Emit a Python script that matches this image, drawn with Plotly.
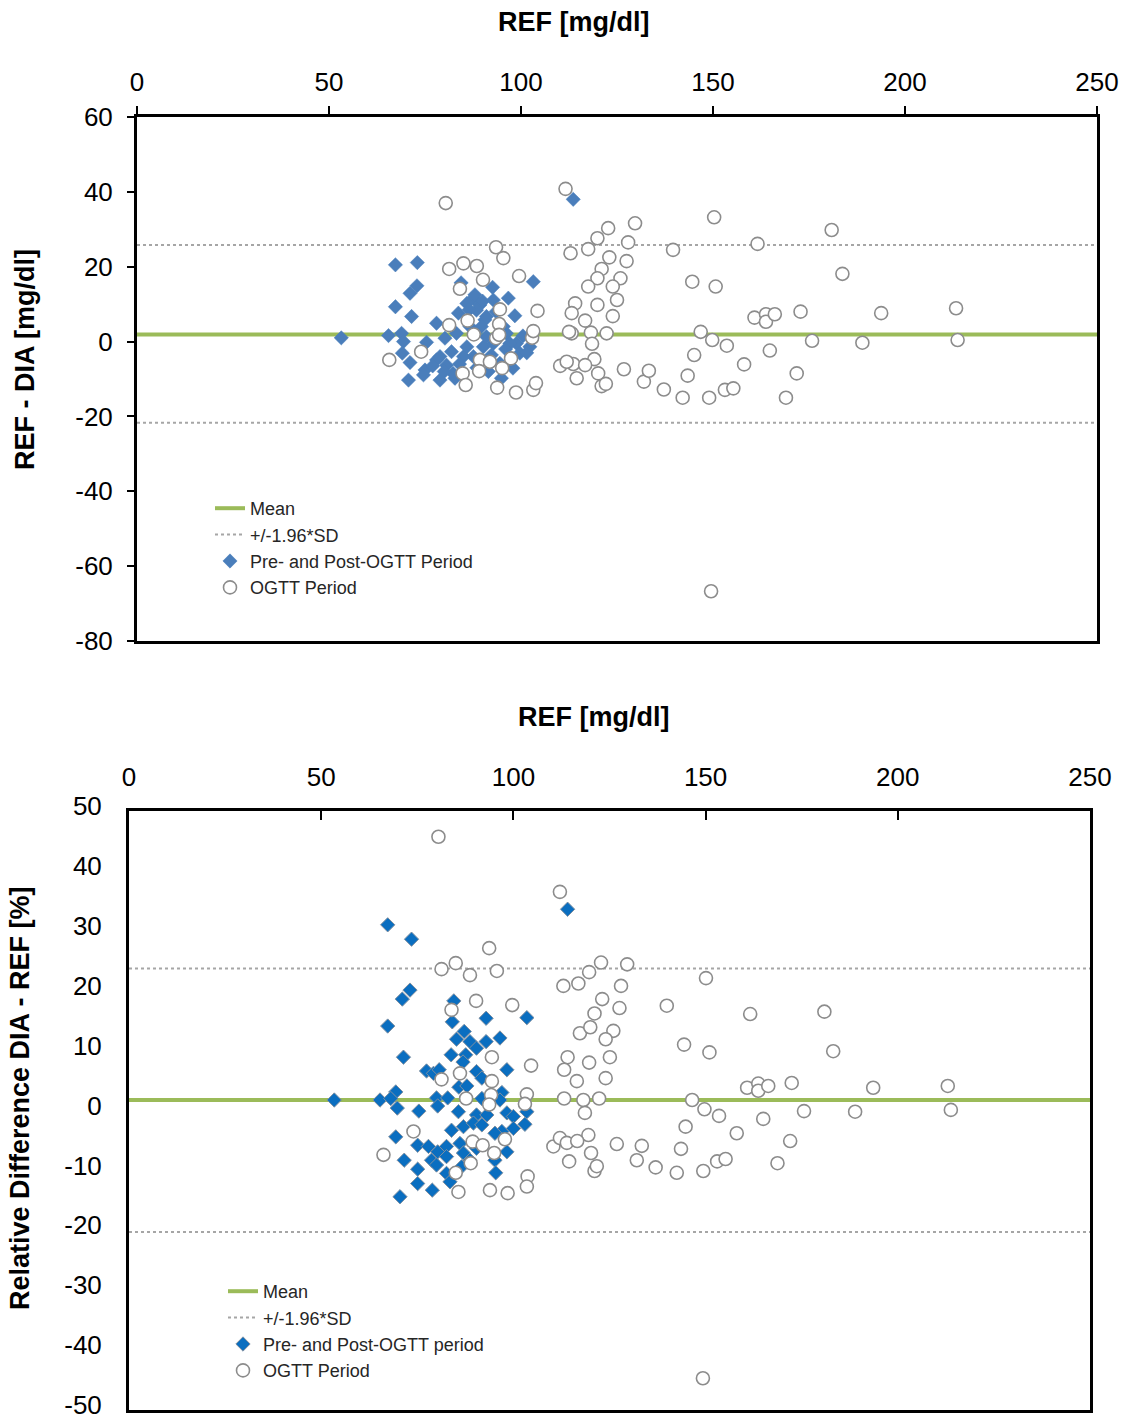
import plotly.graph_objects as go

# ---------------- DATA ----------------
# Top chart: absolute difference REF - DIA [mg/dl] vs REF [mg/dl]
top_pre_x = [113.6, 67.3, 73.0, 72.9, 71.1, 67.3, 71.5, 84.4, 92.6, 103.2, 96.7, 87.6, 85.9, 89.3, 92.8,
             83.7, 98.4, 78.0, 90.6, 53.2, 65.5, 68.9, 69.4, 75.4, 80.2, 83.2, 96.2, 98.8, 102.3, 85.9,
             90.2, 69.1, 71.1, 75.0, 70.7, 74.6, 78.9, 78.0, 80.6, 82.3, 82.8, 87.6, 94.5, 97.9, 94.9,
             92.3, 99.7, 88.4, 91.0, 86.7, 89.7, 95.4, 92.8, 97.1, 81.9, 85.0, 91.0, 78.9, 88.0, 90.0,
             86.5, 93.5, 100.5, 101.5, 96.0, 84.0, 88.5, 91.5, 77.0, 80.0]
top_pre_y = [38.0, 20.5, 21.1, 14.9, 12.9, 9.3, 6.7, 15.7, 14.5, 16.0, 11.6, 11.6, 10.2, 9.8, 11.1,
             7.6, 6.9, 4.9, 5.8, 1.0, 1.6, 2.2, 0.0, -0.2, 0.9, 2.2, 2.2, -0.5, -1.4, -1.4,
             -1.4, -3.1, -5.6, -7.6, -10.3, -8.9, -10.3, -4.9, -6.3, -8.5, -9.8, -4.0, -5.8, -7.1, -9.8,
             -3.6, -3.1, 8.4, 6.7, 4.0, 4.0, 4.0, -0.5, -0.5, -2.7, -4.0, 1.3, -4.0, 12.5, 10.8,
             8.5, 8.0, 1.5, -3.0, -2.0, -6.0, -7.0, -8.0, -6.5, -8.0]

top_ogtt_x = [80.4, 111.6, 93.5, 95.4, 81.3, 85.0, 88.5, 90.1, 99.5, 84.1, 94.5, 104.3, 81.3, 86.1, 94.3,
              87.7, 93.5, 94.3, 102.9, 103.2, 74.0, 65.7, 89.3, 91.9, 97.4, 84.8, 89.1, 95.1, 85.6, 93.8,
              98.7, 103.2, 103.9,
              150.3, 129.7, 122.7, 119.9, 117.5, 112.9, 127.9, 139.6, 161.6, 123.0, 127.5, 121.0, 119.9,
              117.5, 125.9, 123.9, 144.6, 150.7, 125.0, 119.9, 114.1, 113.2, 123.9, 116.7, 113.2, 112.5,
              118.2, 122.3, 118.5, 119.1, 110.2, 113.6, 116.7, 111.9, 114.5, 120.1, 121.0, 122.1, 126.8,
              132.0, 133.3, 137.2, 142.1, 143.4, 145.1, 146.8, 149.8, 153.6, 149.0, 153.1, 155.3, 158.1,
              160.8, 163.8, 163.8, 166.1, 164.8, 172.8, 171.8, 169.0,
              180.9, 183.7, 193.8, 213.3, 175.8, 188.9, 213.7, 149.5]
top_ogtt_y = [37.0, 40.8, 25.2, 22.3, 19.4, 20.9, 20.2, 16.5, 17.5, 14.1, 8.6, 8.2, 4.4, 5.6, 4.7,
              1.9, 0.9, 1.8, 1.0, 2.8, -2.7, -4.9, -4.9, -5.4, -4.5, -8.5, -7.9, -7.1, -11.6, -12.3,
              -13.6, -12.9, -11.1,
              33.2, 31.6, 30.3, 27.6, 24.7, 23.6, 26.5, 24.5, 26.1, 22.5, 21.5, 19.4, 16.9,
              14.7, 16.9, 14.7, 16.0, 14.7, 11.1, 9.8, 10.2, 7.6, 6.8, 5.6, 2.2, 2.6,
              2.4, 2.2, -0.6, -4.7, -6.5, -6.0, -6.3, -5.4, -9.8, -8.5, -11.9, -11.3, -7.4,
              -10.7, -7.8, -12.8, -15.0, -9.1, -3.6, 2.6, 0.4, -1.1, -15.0, -12.9, -12.5, -6.1,
              6.4, 7.3, 5.3, 7.3, -2.4, 8.0, -8.5, -15.0,
              29.8, 18.1, 7.6, 8.9, 0.2, -0.3, 0.4, -66.7]

top_mean = 1.9
top_upper = 25.8
top_lower = -21.7

# Bottom chart: relative difference DIA - REF [%] vs REF [mg/dl]
bot_pre_x = [114.1, 67.3, 73.5, 73.1, 71.1, 84.5,
             67.3, 92.9, 103.5, 84.1, 87.2, 85.2, 88.7, 90.4, 92.9, 96.5, 71.4, 83.8, 87.6, 86.9,
             77.4, 79.2, 80.7, 90.4, 98.3, 91.8, 85.8, 87.9, 97.0, 69.4, 53.4, 65.3, 68.1, 80.0,
             82.9, 91.8, 96.5, 69.8, 75.4, 80.3, 85.7, 90.4, 93.1, 98.3, 100.0, 103.5, 83.9, 87.0,
             89.6, 91.8, 103.0, 100.0, 97.0, 95.2, 69.4, 75.1, 77.9, 80.3, 82.6, 86.1, 90.4, 98.3,
             71.6, 78.7, 80.0, 82.6, 87.0, 88.7, 95.2, 75.1, 82.6, 95.4, 75.1, 78.9, 83.5, 70.5, 86.5]
bot_pre_y = [33.6, 31.0, 28.6, 20.1, 18.6, 18.3,
             14.1, 15.4, 15.5, 14.8, 13.2, 11.9, 11.5, 10.4, 11.5, 12.1, 8.9, 9.3, 9.3, 8.1,
             6.6, 6.2, 6.8, 6.5, 6.8, 5.4, 3.9, 4.1, 3.0, 3.1, 1.75, 1.75, 2.0, 2.1,
             2.1, 2.0, 1.75, 0.4, -0.1, 0.75, -0.2, -0.75, -0.75, -0.4, -1.0, -0.2, -3.3, -2.7,
             -2.1, -2.4, -2.3, -3.0, -3.5, -3.8, -4.4, -5.8, -6.0, -6.9, -6.0, -5.5, -6.3, -6.9,
             -8.3, -8.3, -9.1, -7.7, -7.1, -8.3, -8.3, -9.8, -10.5, -10.4, -12.2, -13.3, -11.9, -14.4, -9.4]

bot_ogtt_x = [80.5, 112.1, 93.7, 81.3, 85.0, 88.7, 95.7, 113.0, 116.9, 90.3, 99.7, 83.9, 94.4, 104.6,
              86.1, 81.3, 94.4, 87.7, 94.2, 103.5, 103.0, 93.7, 113.2, 74.0, 66.2, 89.4, 92.0, 97.8,
              95.0, 88.9, 85.0, 85.7, 93.9, 98.5, 103.7, 103.5, 110.4, 112.1, 113.9, 114.5, 114.1, 113.2,
              122.8, 129.6, 119.7, 128.0, 150.1, 123.1, 127.6, 139.9, 161.6, 180.9, 121.1, 117.3, 120.0,
              126.0, 124.0, 144.4, 151.0, 183.2, 125.1, 119.7, 116.5, 124.0, 160.8, 163.7, 163.7, 166.3,
              172.4, 118.2, 122.3, 146.5, 118.6, 149.7, 153.5, 175.6, 144.8, 165.0, 158.1, 119.5, 116.6,
              126.9, 133.4, 143.6, 172.0, 120.2, 132.1, 137.0, 142.5, 149.4, 153.0, 155.2, 168.7, 121.1,
              121.7, 193.6, 213.0, 188.9, 213.8, 149.3]
bot_ogtt_y = [45.7, 36.5, 27.1, 23.6, 24.6, 22.6, 23.3, 20.8, 21.2, 18.3, 17.6, 16.8, 8.9, 7.5,
              6.2, 5.2, 4.9, 2.0, 2.6, 2.7, 1.1, 1.0, 2.0, -3.5, -7.4, -5.2, -5.8, -4.8,
              -7.1, -8.8, -10.4, -13.6, -13.3, -13.8, -11.0, -12.7, -6.0, -4.6, -5.4, -8.5, 8.9, 6.8,
              24.7, 24.4, 23.1, 20.8, 22.1, 18.6, 17.1, 17.5, 16.1, 16.5, 16.2, 12.9, 13.9,
              13.3, 11.9, 11.0, 9.7, 9.9, 8.9, 8.0, 4.9, 5.4, 3.8, 4.5, 3.3, 4.1,
              4.6, 1.75, 2.0, 1.75, -0.4, 0.2, -0.9, -0.1, -2.7, -1.4, -3.8, -4.1, -5.1,
              -5.6, -5.9, -6.4, -5.1, -7.1, -8.3, -9.5, -10.4, -10.1, -8.5, -8.1, -8.8, -10.1,
              -9.3, 3.8, 4.1, -0.2, 0.1, -44.7]

bot_mean = 1.75
bot_upper = 23.7
bot_lower = -20.3

x_range = [0, 250]
x_ticks = [0, 50, 100, 150, 200, 250]
x_tick_text = ["0", "50", "100", "150", "200", "250"]
top_y_ticks = [-80, -60, -40, -20, 0, 20, 40, 60]
top_y_tick_text = ["-80", "-60", "-40", "-20", "0", "20", "40", "60"]
bot_y_ticks = [-50, -40, -30, -20, -10, 0, 10, 20, 30, 40, 50]
bot_y_tick_text = ["-50", "-40", "-30", "-20", "-10", "0", "10", "20", "30", "40", "50"]

# ---------------- STYLE ----------------
FONT = "Liberation Sans, Arial, sans-serif"
GREEN = "#9BBB59"
DOT = "#A6A6A6"
CIRCLE_LINE = "#8C8C8C"

W, H = 1126, 1421


def px_x(p):
    return p / W


def px_y(p):
    return 1 - p / H


fig = go.Figure()

# ---- top chart traces ----
fig.add_trace(go.Scatter(x=x_range, y=[top_mean, top_mean], mode="lines", name="Mean",
                         line=dict(color=GREEN, width=4), xaxis="x", yaxis="y", legend="legend",
                         legendgroup="a"))
fig.add_trace(go.Scatter(x=[x_range[0], x_range[1], None, x_range[0], x_range[1]],
                         y=[top_upper, top_upper, None, top_lower, top_lower], mode="lines",
                         name="+/-1.96*SD", line=dict(color=DOT, width=2, dash="dot"),
                         xaxis="x", yaxis="y", legend="legend", legendgroup="b"))
fig.add_trace(go.Scatter(x=top_pre_x, y=top_pre_y, mode="markers", name="Pre- and Post-OGTT Period",
                         marker=dict(symbol="diamond", size=11, color="#4A7EBB",
                                     line=dict(color="#4A7EBB", width=0.5)),
                         xaxis="x", yaxis="y", legend="legend", legendgroup="c"))
fig.add_trace(go.Scatter(x=top_ogtt_x, y=top_ogtt_y, mode="markers", name="OGTT Period",
                         marker=dict(symbol="circle", size=13, color="white",
                                     line=dict(color=CIRCLE_LINE, width=1.6)),
                         xaxis="x", yaxis="y", legend="legend", legendgroup="d"))

# ---- bottom chart traces ----
fig.add_trace(go.Scatter(x=x_range, y=[bot_mean, bot_mean], mode="lines", name="Mean",
                         line=dict(color=GREEN, width=4), xaxis="x2", yaxis="y2", legend="legend2",
                         legendgroup="e"))
fig.add_trace(go.Scatter(x=[x_range[0], x_range[1], None, x_range[0], x_range[1]],
                         y=[bot_upper, bot_upper, None, bot_lower, bot_lower], mode="lines",
                         name="+/-1.96*SD", line=dict(color=DOT, width=2, dash="dot"),
                         xaxis="x2", yaxis="y2", legend="legend2", legendgroup="f"))
fig.add_trace(go.Scatter(x=bot_pre_x, y=bot_pre_y, mode="markers", name="Pre- and Post-OGTT period",
                         marker=dict(symbol="diamond", size=11, color="#0A6EC0",
                                     line=dict(color="#7F8FA0", width=1)),
                         xaxis="x2", yaxis="y2", legend="legend2", legendgroup="g"))
fig.add_trace(go.Scatter(x=bot_ogtt_x, y=bot_ogtt_y, mode="markers", name="OGTT Period",
                         marker=dict(symbol="circle", size=13, color="white",
                                     line=dict(color=CIRCLE_LINE, width=1.6)),
                         xaxis="x2", yaxis="y2", legend="legend2", legendgroup="h"))

axis_common = dict(showline=True, linecolor="black", linewidth=3, mirror=True, showgrid=False,
                   zeroline=False, automargin=False, ticklabeloverflow="allow",
                   tickfont=dict(family=FONT, size=26, color="black"),
                   tickcolor="black", tickwidth=2, tickmode="array")

legend_common = dict(font=dict(family=FONT, size=18, color="#262626"), bgcolor="rgba(0,0,0,0)",
                     borderwidth=0, tracegroupgap=0, xanchor="left", yanchor="top",
                     itemsizing="trace")

fig.update_layout(
    template="none",
    width=W, height=H,
    margin=dict(l=0, r=0, t=0, b=0, pad=0, autoexpand=False),
    paper_bgcolor="white", plot_bgcolor="white",
    font=dict(family=FONT, color="black"),
    xaxis=dict(domain=[px_x(137), px_x(1097)], range=x_range, tickvals=x_ticks, ticktext=x_tick_text,
               side="top", anchor="y", ticks="outside", ticklen=8, ticklabelstandoff=5,
               **axis_common),
    yaxis=dict(domain=[px_y(641), px_y(117)], range=[-80, 60], tickvals=top_y_ticks,
               ticktext=top_y_tick_text, anchor="x",
               ticks="outside", ticklen=7, ticklabelstandoff=9, **axis_common),
    xaxis2=dict(domain=[px_x(129), px_x(1090)], range=x_range, tickvals=x_ticks, ticktext=x_tick_text,
                side="top", anchor="y2", ticks="inside", ticklen=9, ticklabelstandoff=12,
                **axis_common),
    yaxis2=dict(domain=[px_y(1410), px_y(811)], range=[-50, 50], tickvals=bot_y_ticks,
                ticktext=bot_y_tick_text, anchor="x2", ticklabelshift=-5,
                ticks="", ticklabelstandoff=19, **axis_common),
    legend=dict(x=px_x(210), y=px_y(490), **legend_common),
    legend2=dict(x=px_x(223), y=px_y(1273), **legend_common),
    showlegend=True,
    annotations=[
        dict(text="<b>REF [mg/dl]</b>", x=px_x(573), y=px_y(22), xref="paper", yref="paper",
             showarrow=False, xanchor="center", yanchor="middle",
             font=dict(family=FONT, size=27, color="black")),
        dict(text="<b>REF - DIA [mg/dl]</b>", x=px_x(25), y=px_y(360), xref="paper", yref="paper",
             showarrow=False, xanchor="center", yanchor="middle", textangle=-90,
             font=dict(family=FONT, size=27, color="black")),
        dict(text="<b>REF [mg/dl]</b>", x=px_x(593), y=px_y(717), xref="paper", yref="paper",
             showarrow=False, xanchor="center", yanchor="middle",
             font=dict(family=FONT, size=27, color="black")),
        dict(text="<b>Relative Difference DIA - REF [%]</b>", x=px_x(20), y=px_y(1098),
             xref="paper", yref="paper", showarrow=False, xanchor="center", yanchor="middle",
             textangle=-90, font=dict(family=FONT, size=27, color="black")),
    ],
)

fig.write_html("out.html")
